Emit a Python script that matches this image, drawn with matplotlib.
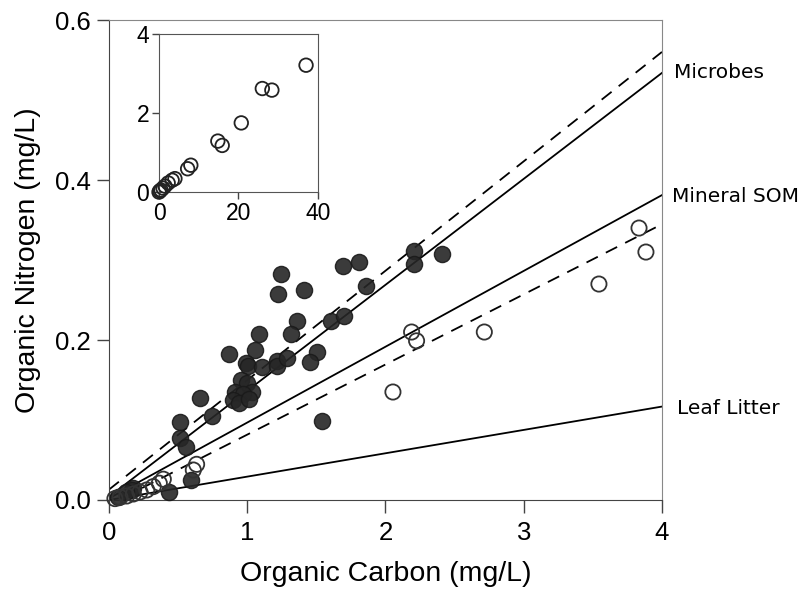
import numpy as np
import matplotlib.pyplot as plt

# filled circles (main panel)
filled_c = [1.244, 1.695, 1.808, 1.857, 1.225, 1.41, 1.358, 1.316, 1.603, 1.70,
            1.087, 1.056, 0.870, 0.99, 1.008, 1.109, 1.213, 1.217, 1.29, 1.507,
            1.456, 1.538, 0.952, 0.996, 0.911, 1.032, 0.972, 0.899, 0.943, 1.015,
            0.658, 0.747, 0.514, 0.514, 0.555, 0.591, 0.434, 2.209, 2.209, 2.409,
            0.176, 0.164, 0.12, 0.067]
filled_n = [0.282, 0.2925, 0.298, 0.268, 0.257, 0.263, 0.224, 0.208, 0.224, 0.23,
            0.208, 0.188, 0.182, 0.171, 0.1675, 0.166, 0.174, 0.168, 0.178, 0.185,
            0.172, 0.099, 0.15, 0.146, 0.135, 0.135, 0.133, 0.125, 0.121, 0.126,
            0.128, 0.105, 0.098, 0.078, 0.066, 0.025, 0.0096, 0.311, 0.295, 0.308,
            0.0146, 0.0125, 0.010, 0.004]

# open circles (main panel)
open_c = [3.834, 3.884, 3.544, 2.715, 2.189, 2.225, 2.054, 0.634, 0.61, 0.393,
          0.364, 0.32, 0.273, 0.224, 0.176, 0.128, 0.08, 0.043]
open_n = [0.340, 0.310, 0.270, 0.210, 0.210, 0.199, 0.135, 0.0446, 0.0375, 0.026,
          0.021, 0.0167, 0.0125, 0.010, 0.0075, 0.005, 0.0033, 0.0017]

# inset (high concentration samples)
inset_c = [37.0, 26.0, 28.4, 20.7, 14.8, 15.9, 8.0, 7.2, 4.0, 3.3, 2.3, 1.5, 1.0, 0.5, 0.2, 0.0]
inset_n = [3.21, 2.62, 2.58, 1.75, 1.29, 1.18, 0.68, 0.59, 0.34, 0.30, 0.23, 0.15, 0.10, 0.05, 0.03, 0.0]

# reference lines: (label, intercept, slope)
solid_lines = [("Microbes", 0.004, 0.1325), ("Mineral SOM", 0.002, 0.0948), ("Leaf Litter", 0.0, 0.0292)]
dashed_lines = [(0.013, 0.1368, 0.0), (-0.006, 0.0877, 0.1)]
label_y = [0.534, 0.38, 0.114]
label_dx = [9, 7, 10.5]

fig = plt.figure(figsize=(8.06, 5.91), dpi=100)
ax = fig.add_axes([0.1352, 0.154, 0.6861, 0.812])

for name, b, m in solid_lines:
    xs = np.array([0, 4])
    ax.plot(xs, b + m * xs, color='black', lw=1.3, zorder=2)
for b, m, x0 in dashed_lines:
    xs = np.array([x0, 4])
    ax.plot(xs, b + m * xs, color='black', lw=1.3, ls=(0, (7, 5)), zorder=2)

ax.scatter(filled_c, filled_n, s=135, facecolor='#262626', edgecolor='#1a1a1a',
           alpha=0.9, lw=1, zorder=3, clip_on=False)
ax.scatter(open_c, open_n, s=120, facecolor='none', edgecolor='#333333',
           lw=1.3, zorder=3, clip_on=False)

ax.set_xlim(0, 4)
ax.set_ylim(0, 0.6)
ax.set_xticks([0, 1, 2, 3, 4])
ax.set_yticks([0, 0.2, 0.4, 0.6])
ax.set_yticklabels(['0.0', '0.2', '0.4', '0.6'])
ax.tick_params(direction='out', length=9, width=1, labelsize=18.5, color='#444444', pad=4)
ax.tick_params(axis='x', pad=6)
for s in ['left', 'bottom']:
    ax.spines[s].set_color('#444444')
for s in ['top', 'right']:
    ax.spines[s].set_color('#888888')
for lab in ax.get_xticklabels() + ax.get_yticklabels():
    lab.set_family('Liberation Sans')
ax.set_xlabel('Organic Carbon (mg/L)', fontsize=20.5, family='Liberation Sans', labelpad=12)
ax.set_ylabel('Organic Nitrogen (mg/L)', fontsize=20.5, family='Liberation Sans', labelpad=10)

for (name, b, m), y, dx in zip(solid_lines, label_y, label_dx):
    ax.annotate(name, xy=(4, y), xytext=(dx, 0), textcoords='offset points',
                ha='left', va='center', fontsize=14.5, family='DejaVu Sans', clip_on=False)

# inset
ins = fig.add_axes([0.1973, 0.675, 0.1972, 0.2675])
ins.scatter(inset_c, inset_n, s=95, facecolor='none', edgecolor='#222222', lw=1.3,
            clip_on=False, zorder=3)
ins.set_xlim(0, 40)
ins.set_ylim(0, 4)
ins.set_xticks([0, 20, 40])
ins.set_yticks([0, 2, 4])
ins.tick_params(direction='out', length=5, width=1, labelsize=16.5, color='#444444', pad=2)
for lab in ins.get_xticklabels() + ins.get_yticklabels():
    lab.set_family('Liberation Sans')
for s in ins.spines.values():
    s.set_color('#555555')

fig.savefig('out.png', dpi=100)
